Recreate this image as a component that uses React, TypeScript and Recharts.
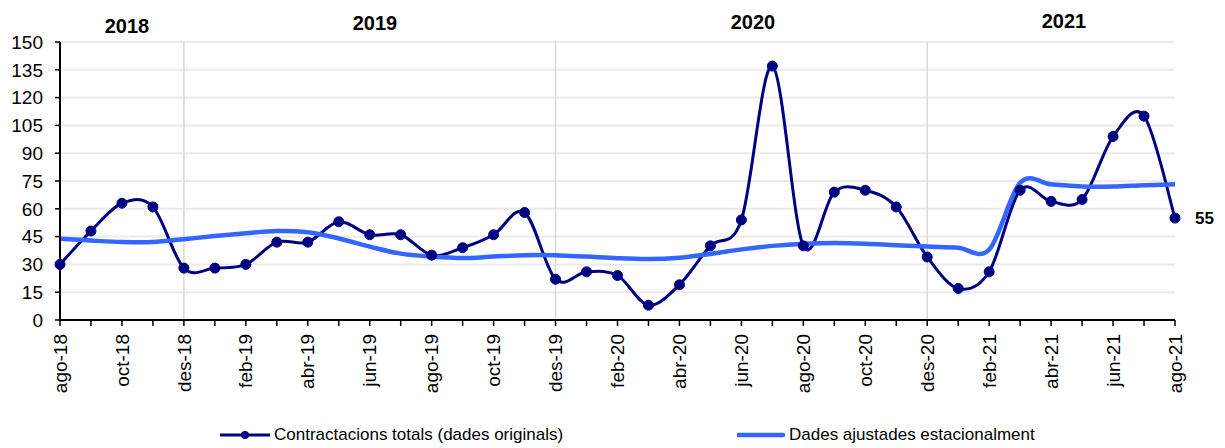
import React from 'react';
import { LineChart, Line, XAxis, YAxis, CartesianGrid, ReferenceLine, LabelList } from 'recharts';

// monthly categories, ago-18 .. ago-21
const months = [
  'ago-18', 'set-18', 'oct-18', 'nov-18', 'des-18',
  'gen-19', 'feb-19', 'mar-19', 'abr-19', 'mai-19', 'jun-19', 'jul-19', 'ago-19', 'set-19', 'oct-19', 'nov-19', 'des-19',
  'gen-20', 'feb-20', 'mar-20', 'abr-20', 'mai-20', 'jun-20', 'jul-20', 'ago-20', 'set-20', 'oct-20', 'nov-20', 'des-20',
  'gen-21', 'feb-21', 'mar-21', 'abr-21', 'mai-21', 'jun-21', 'jul-21', 'ago-21',
];

const totals = [
  30, 48, 63, 61, 28,
  28, 30, 42, 42, 53, 46, 46, 35, 39, 46, 58, 22,
  26, 24, 8, 19, 40, 54, 137, 40, 69, 70, 61, 34,
  17, 26, 70, 64, 65, 99, 110, 55,
];

const adjusted = [
  43.9, 42.9, 42.1, 42.1, 43.6,
  45.3, 46.8, 48, 47.3, 44, 39.6, 35.8, 34.2, 33.4, 34.2, 35, 35,
  34.2, 33.3, 32.9, 33.6, 35.6, 38.1, 40, 41.2, 41.6, 41.2, 40.3, 39.6,
  39, 38, 74, 73.2, 72, 72, 72.7, 73.2,
];

const yTicks = [0, 15, 30, 45, 60, 75, 90, 105, 120, 135, 150];
const yearBreaks = ['des-18', 'des-19', 'des-20'];
const yearLabels = [
  { year: '2018', x: 127, y: 14 },
  { year: '2019', x: 375, y: 11 },
  { year: '2020', x: 753, y: 10 },
  { year: '2021', x: 1064, y: 9 },
];

const data = months.map((m, i) => ({ month: m, totals: totals[i], adjusted: adjusted[i] }));

const FONT = '"Liberation Sans", Arial, sans-serif';
const NAVY = '#000080';
const BLUE = '#3366FF';

// Excel-style smoothed line (Catmull-Rom through every point)
const excelCurve = (context: any) => {
  let pts: number[][] = [];
  return {
    areaStart() {},
    areaEnd() {},
    lineStart() { pts = []; },
    point(x: number, y: number) { pts.push([+x, +y]); },
    lineEnd() {
      if (!pts.length) return;
      context.moveTo(pts[0][0], pts[0][1]);
      for (let i = 0; i < pts.length - 1; i++) {
        const p0 = pts[i - 1] || pts[i];
        const p1 = pts[i];
        const p2 = pts[i + 1];
        const p3 = pts[i + 2] || p2;
        context.bezierCurveTo(
          p1[0] + (p2[0] - p0[0]) / 6, p1[1] + (p2[1] - p0[1]) / 6,
          p2[0] - (p3[0] - p1[0]) / 6, p2[1] - (p3[1] - p1[1]) / 6,
          p2[0], p2[1]
        );
      }
    },
  };
};

const MonthTick = (props: any) => {
  const { x, y, payload } = props;
  const idx = months.indexOf(payload.value);
  if (idx % 2 !== 0) return null;
  return (
    <text x={x} y={y} dy="0.35em" transform={`rotate(-90, ${x}, ${y})`} textAnchor="end"
      fill="#000" fontSize={19} fontFamily={FONT}>
      {payload.value}
    </text>
  );
};

const LastLabel = (props: any) => {
  const { x, y, value, index } = props;
  if (index !== months.length - 1) return null;
  return (
    <text x={x + 20} y={y} dy="0.35em" fill="#000" fontSize={17} fontWeight="bold" fontFamily={FONT}>
      {value}
    </text>
  );
};

export default function App() {
  return (
    <div style={{ position: 'absolute', left: 0, top: 0, width: 1225, height: 448, background: '#fff', fontFamily: FONT }}>
      <LineChart width={1225} height={448} data={data} margin={{ top: 42, right: 50, bottom: 38, left: 0 }}>
        <CartesianGrid vertical={false} stroke="#ebebeb" strokeWidth={2} />
        <XAxis
          dataKey="month"
          interval={0}
          height={90}
          tick={<MonthTick />}
          tickSize={6}
          tickMargin={8}
          axisLine={{ stroke: '#000', strokeWidth: 2 }}
          tickLine={{ stroke: '#000', strokeWidth: 1.5 }}
        />
        <YAxis
          domain={[0, 150]}
          ticks={yTicks}
          interval={0}
          width={60}
          tickSize={5}
          tickMargin={12}
          tick={{ fill: '#000', fontSize: 19, fontFamily: FONT }}
          axisLine={{ stroke: '#000', strokeWidth: 2 }}
          tickLine={{ stroke: '#000', strokeWidth: 1.5 }}
        />
        {yearBreaks.map((m) => (
          <ReferenceLine key={m} x={m} stroke="#d9d9d9" strokeWidth={1.5} />
        ))}
        <Line
          dataKey="totals"
          type={excelCurve as any}
          stroke={NAVY}
          strokeWidth={3}
          dot={{ r: 5, fill: NAVY, stroke: NAVY, strokeWidth: 1 }}
          isAnimationActive={false}
        >
          <LabelList dataKey="totals" content={<LastLabel />} />
        </Line>
        <Line
          dataKey="adjusted"
          type={excelCurve as any}
          stroke={BLUE}
          strokeWidth={4.5}
          dot={false}
          isAnimationActive={false}
        />
      </LineChart>

      {yearLabels.map((l) => (
        <div key={l.year} style={{ position: 'absolute', left: l.x - 40, top: l.y, width: 80, textAlign: 'center', fontSize: 20, fontWeight: 'bold', lineHeight: '24px' }}>
          {l.year}
        </div>
      ))}

      <div style={{ position: 'absolute', left: 220, top: 424, height: 22, display: 'flex', alignItems: 'center', fontSize: 17 }}>
        <svg width={52} height={12} style={{ marginRight: 2 }}>
          <line x1={0} y1={6} x2={50} y2={6} stroke={NAVY} strokeWidth={3} />
          <circle cx={25} cy={6} r={4} fill={NAVY} />
        </svg>
        <span>Contractacions totals (dades originals)</span>
      </div>
      <div style={{ position: 'absolute', left: 737, top: 424, height: 22, display: 'flex', alignItems: 'center', fontSize: 17 }}>
        <svg width={50} height={12} style={{ marginRight: 2 }}>
          <line x1={0} y1={6} x2={46} y2={6} stroke={BLUE} strokeWidth={4.5} strokeLinecap="round" />
        </svg>
        <span>Dades ajustades estacionalment</span>
      </div>
    </div>
  );
}
